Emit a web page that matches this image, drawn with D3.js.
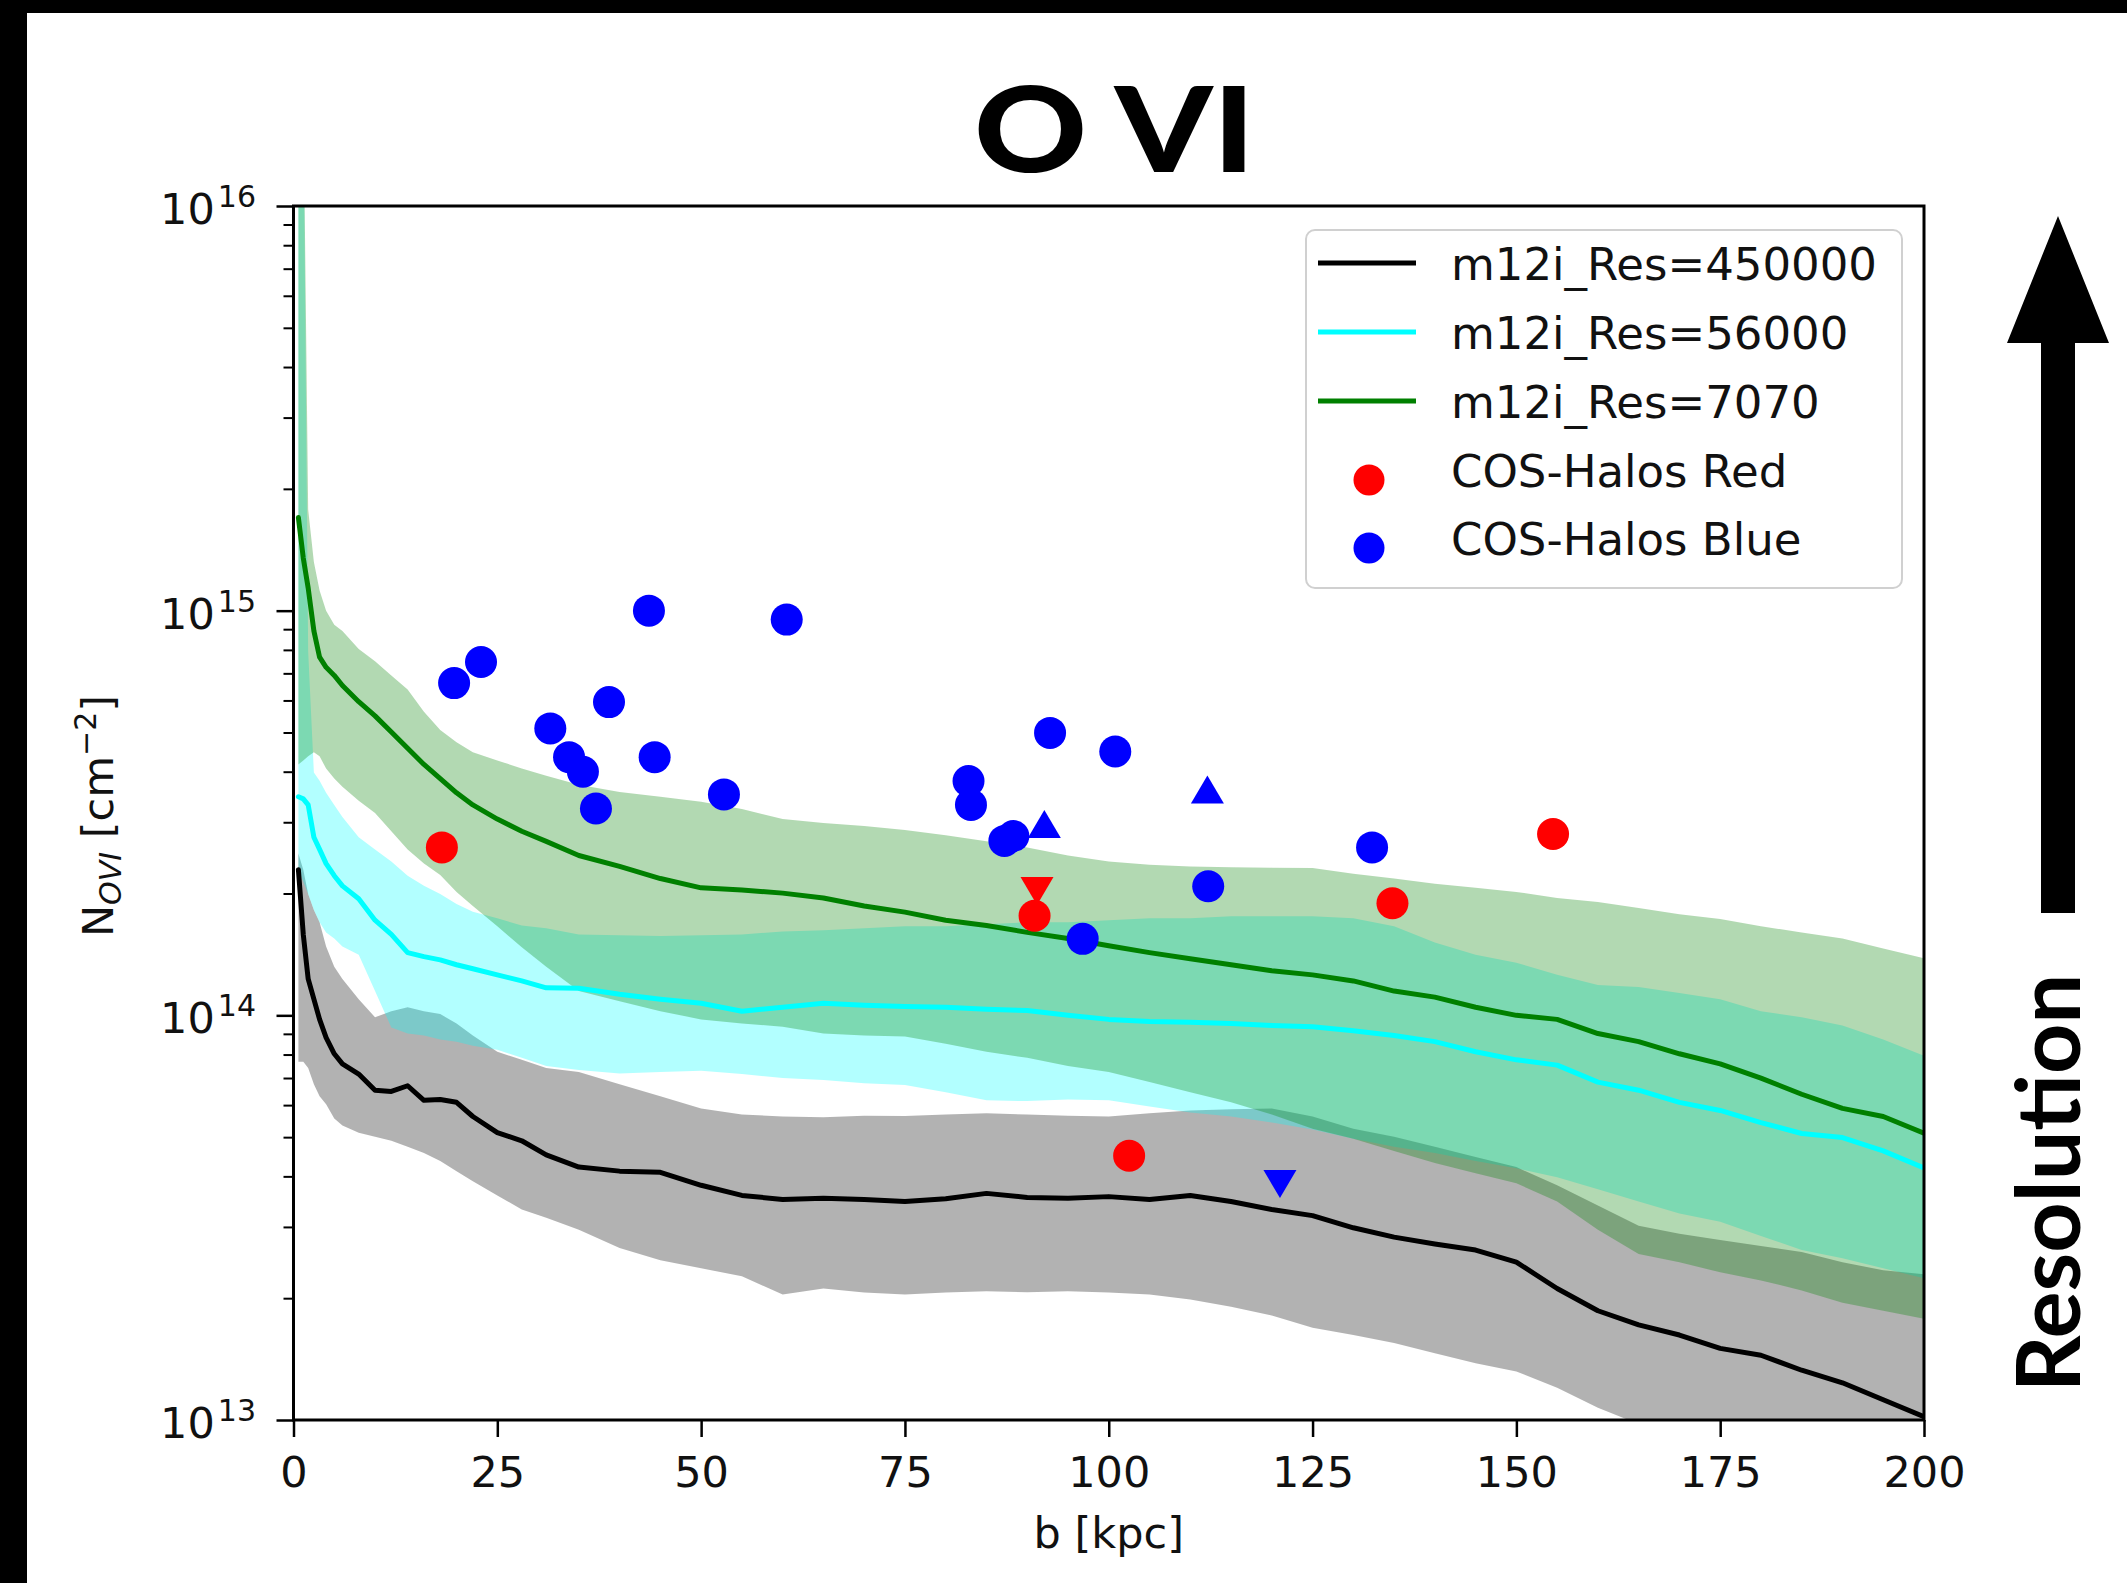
<!DOCTYPE html>
<html><head><meta charset="utf-8">
<script src="https://cdn.jsdelivr.net/npm/d3@7"></script>
<style>body{margin:0;background:#fff;} svg{display:block;}</style>
</head><body>
<script>
// ---------- data (values are log10 of N_OVI in cm^-2) ----------
const bKpc = [0.6,1.2,1.8,2.5,3.2,4,5,6,8,10,12,14,16,18,20,22,25,28,31,35,40,45,50,55,60,65,70,75,80,85,90,95,100,105,110,115,120,125,130,135,140,145,150,155,160,165,170,175,180,185,190,195,200];

const res450000Median = [14.36,14.20,14.09,14.04,13.99,13.945,13.905,13.88,13.855,13.815,13.812,13.826,13.79,13.792,13.785,13.75,13.71,13.69,13.655,13.625,13.615,13.612,13.58,13.555,13.545,13.548,13.545,13.54,13.547,13.56,13.55,13.548,13.552,13.545,13.555,13.54,13.52,13.505,13.475,13.452,13.435,13.42,13.39,13.325,13.27,13.235,13.21,13.177,13.16,13.123,13.092,13.05,13.008];
const res450000Low = [13.885,13.885,13.87,13.83,13.80,13.78,13.745,13.728,13.71,13.70,13.69,13.675,13.66,13.64,13.615,13.59,13.555,13.52,13.50,13.47,13.425,13.395,13.375,13.355,13.31,13.325,13.315,13.31,13.315,13.318,13.316,13.318,13.315,13.31,13.298,13.28,13.258,13.228,13.21,13.19,13.165,13.14,13.12,13.08,13.03,12.99,12.95,12.91,12.87,12.83,12.79,12.75,12.71];
const res450000High = [14.40,14.36,14.30,14.26,14.23,14.17,14.12,14.09,14.04,13.995,14.01,14.02,14.01,14.003,13.98,13.95,13.91,13.89,13.87,13.86,13.83,13.80,13.77,13.755,13.75,13.748,13.752,13.751,13.755,13.758,13.755,13.752,13.75,13.758,13.765,13.768,13.77,13.75,13.72,13.70,13.675,13.65,13.625,13.58,13.53,13.48,13.46,13.445,13.43,13.415,13.39,13.37,13.36];

const res56000Median = [14.54,14.535,14.52,14.44,14.41,14.375,14.345,14.32,14.288,14.235,14.20,14.155,14.145,14.137,14.125,14.115,14.10,14.085,14.068,14.067,14.052,14.04,14.03,14.01,14.02,14.03,14.025,14.022,14.02,14.015,14.012,14.0,13.99,13.985,13.983,13.98,13.975,13.972,13.962,13.95,13.935,13.91,13.89,13.877,13.835,13.815,13.785,13.765,13.735,13.708,13.698,13.665,13.623];
const res56000Low = [14.36,14.33,14.30,14.26,14.23,14.205,14.19,14.17,14.15,14.06,13.97,13.955,13.95,13.94,13.935,13.925,13.915,13.895,13.875,13.865,13.856,13.86,13.863,13.855,13.845,13.84,13.832,13.828,13.81,13.79,13.788,13.792,13.79,13.775,13.76,13.75,13.735,13.718,13.695,13.675,13.66,13.64,13.622,13.60,13.57,13.54,13.51,13.49,13.455,13.42,13.40,13.375,13.35];
const res56000High = [16.3,16.3,14.9,14.6,14.58,14.55,14.52,14.49,14.44,14.41,14.38,14.345,14.32,14.30,14.275,14.256,14.24,14.222,14.215,14.2,14.198,14.196,14.198,14.2,14.207,14.21,14.215,14.22,14.22,14.225,14.23,14.23,14.235,14.24,14.24,14.245,14.245,14.245,14.24,14.22,14.18,14.15,14.13,14.10,14.075,14.07,14.055,14.04,14.01,13.995,13.975,13.94,13.90];

const res7070Median = [15.23,15.13,15.056,14.95,14.885,14.86,14.84,14.815,14.775,14.74,14.70,14.66,14.62,14.585,14.55,14.52,14.485,14.455,14.43,14.395,14.368,14.338,14.315,14.31,14.302,14.29,14.27,14.255,14.235,14.222,14.205,14.19,14.172,14.155,14.14,14.125,14.11,14.10,14.085,14.06,14.045,14.02,14.0,13.99,13.955,13.935,13.905,13.88,13.845,13.805,13.77,13.75,13.709];
const res7070Low = [14.62,14.63,14.64,14.65,14.64,14.61,14.585,14.565,14.53,14.50,14.455,14.41,14.375,14.347,14.305,14.27,14.22,14.168,14.12,14.06,14.035,14.01,13.99,13.98,13.972,13.955,13.95,13.948,13.93,13.91,13.895,13.875,13.86,13.835,13.81,13.785,13.755,13.72,13.695,13.665,13.635,13.61,13.585,13.54,13.47,13.41,13.39,13.365,13.345,13.32,13.29,13.27,13.25];
const res7070High = [16.3,16.3,15.25,15.12,15.05,15.0,14.965,14.95,14.905,14.875,14.84,14.805,14.75,14.705,14.675,14.65,14.63,14.61,14.592,14.57,14.552,14.54,14.528,14.51,14.485,14.475,14.468,14.458,14.445,14.43,14.415,14.395,14.38,14.372,14.368,14.366,14.365,14.364,14.35,14.338,14.325,14.315,14.305,14.29,14.28,14.265,14.25,14.238,14.22,14.205,14.19,14.165,14.141];

// COS-Halos
const redB = [18.2, 90.9, 102.5, 134.8, 154.5];
const redLogN = [14.415, 14.246, 13.653, 14.277, 14.448];
const redUpperLimB = [91.2];
const redUpperLimLogN = [14.307];
const blueB = [19.7,23.0,43.6,60.5,31.5,38.7,33.8,35.5,44.3,37.1,52.8,92.8,100.8,82.8,83.1,87.2,88.3,112.2,96.8,132.3];
const blueLogN = [14.821,14.873,15.0,14.978,14.709,14.774,14.638,14.602,14.638,14.511,14.546,14.698,14.652,14.579,14.520,14.431,14.443,14.319,14.189,14.415];
const blueLowerLimB = [92.1, 112.1];
const blueLowerLimLogN = [14.473, 14.558];
const blueUpperLimB = [121.0];
const blueUpperLimLogN = [13.583];

const xTicks = [0,25,50,75,100,125,150,175,200];
const yTickExps = [13,14,15,16];
const seriesNames = ["m12i_Res=450000","m12i_Res=56000","m12i_Res=7070"];
const seriesColors = ["#000000","#00ffff","#008000"];
const obsNames = ["COS-Halos Red","COS-Halos Blue"];
const obsColors = ["#ff0000","#0000ff"];

// ---------- drawing ----------
const W = 2127, H = 1583;
const svg = d3.select("body").append("svg").attr("width", W).attr("height", H);
svg.append("rect").attr("width", W).attr("height", H).attr("fill", "#fff");

const L = 293.5, R = 1924, T = 206, B = 1420;
const x = d3.scaleLinear().domain([0, 200]).range([L, R]);
const y = d3.scaleLog().domain([1e13, 1e16]).range([B, T]);
const yl = v => y(Math.pow(10, v));

svg.append("defs").append("clipPath").attr("id", "clip")
  .append("rect").attr("x", L).attr("y", T).attr("width", R - L).attr("height", B - T);

const plotG = svg.append("g").attr("clip-path", "url(#clip)");

const bands = [
  {lo: res450000Low, hi: res450000High, med: res450000Median},
  {lo: res56000Low, hi: res56000High, med: res56000Median},
  {lo: res7070Low, hi: res7070High, med: res7070Median}
];
bands.forEach((s, k) => {
  const area = d3.area()
    .x((d, i) => x(bKpc[i]))
    .y0((d, i) => yl(s.lo[i]))
    .y1((d, i) => yl(s.hi[i]));
  plotG.append("path").attr("d", area(bKpc))
    .attr("fill", seriesColors[k]).attr("fill-opacity", 0.3);
});
bands.forEach((s, k) => {
  const line = d3.line().x((d, i) => x(bKpc[i])).y((d, i) => yl(s.med[i]));
  plotG.append("path").attr("d", line(bKpc))
    .attr("fill", "none").attr("stroke", seriesColors[k])
    .attr("stroke-width", 5).attr("stroke-linejoin", "round").attr("stroke-linecap", "round");
});

// markers
const tri = (dir) => { // dir = -1 up, +1 down
  const w = 16.5, h = 14;
  return `M0,${dir*h}L${-w},${-dir*h}L${w},${-dir*h}Z`;
};
function circles(bs, ns, color) {
  plotG.selectAll(null).data(bs).enter().append("circle")
    .attr("cx", (d) => x(d)).attr("cy", (d, i) => yl(ns[i])).attr("r", 16)
    .attr("fill", color);
}
function triangles(bs, ns, color, dir) {
  plotG.selectAll(null).data(bs).enter().append("path")
    .attr("d", tri(dir))
    .attr("transform", (d, i) => `translate(${x(d)},${yl(ns[i])})`)
    .attr("fill", color);
}
circles(redB, redLogN, obsColors[0]);
triangles(redUpperLimB, redUpperLimLogN, obsColors[0], 1);
circles(blueB, blueLogN, obsColors[1]);
triangles(blueLowerLimB, blueLowerLimLogN, obsColors[1], -1);
triangles(blueUpperLimB, blueUpperLimLogN, obsColors[1], 1);

// axes
const font = "'DejaVu Sans', sans-serif";
const gx = svg.append("g").attr("transform", `translate(0,${B})`)
  .call(d3.axisBottom(x).tickValues(xTicks).tickSize(17).tickFormat(d => d));
gx.select(".domain").remove();
gx.selectAll("line").attr("stroke", "#000").attr("stroke-width", 2.5);
gx.selectAll("text").attr("y", 67).attr("dy", 0)
  .attr("font-family", font).attr("font-size", 43).attr("fill", "#111");

const majors = yTickExps.map(e => Math.pow(10, e));
const minors = [];
yTickExps.slice(0, -1).forEach(e => { for (let k = 2; k <= 9; k++) minors.push(k * Math.pow(10, e)); });
const gyMin = svg.append("g").attr("transform", `translate(${L},0)`)
  .call(d3.axisLeft(y).tickValues(minors).tickSize(10).tickFormat(""));
gyMin.select(".domain").remove();
gyMin.selectAll("line").attr("stroke", "#000").attr("stroke-width", 2);
const gy = svg.append("g").attr("transform", `translate(${L},0)`)
  .call(d3.axisLeft(y).tickValues(majors).tickSize(17).tickFormat(""));
gy.select(".domain").remove();
gy.selectAll("line").attr("stroke", "#000").attr("stroke-width", 2.5);

yTickExps.forEach(e => {
  const t = svg.append("text").attr("x", 256).attr("y", y(Math.pow(10, e)) + 18)
    .attr("text-anchor", "end").attr("font-family", font).attr("fill", "#111");
  t.append("tspan").attr("font-size", 43).text("10");
  t.append("tspan").attr("font-size", 30).attr("dy", -17).attr("dx", 3).text(String(e));
});

svg.append("rect").attr("x", L).attr("y", T).attr("width", R - L).attr("height", B - T)
  .attr("fill", "none").attr("stroke", "#000").attr("stroke-width", 3);

// axis labels
svg.append("text").attr("x", (L + R) / 2).attr("y", 1548).attr("text-anchor", "middle")
  .attr("font-family", font).attr("font-size", 43).attr("fill", "#111").text("b [kpc]");

const yLab = svg.append("text").attr("transform", "translate(113,816) rotate(-90)")
  .attr("text-anchor", "middle").attr("font-family", font).attr("font-size", 43).attr("fill", "#111");
yLab.append("tspan").text("N");
yLab.append("tspan").attr("font-size", 30).attr("font-style", "italic").attr("dy", 8).text("OVI");
yLab.append("tspan").attr("dy", -8).text(" [cm");
yLab.append("tspan").attr("font-size", 30).attr("dy", -17).text("\u22122");
yLab.append("tspan").attr("dy", 17).text("]");

// legend
const lg = svg.append("g");
lg.append("rect").attr("x", 1306).attr("y", 230).attr("width", 596).attr("height", 358)
  .attr("rx", 9).attr("fill", "#fff").attr("fill-opacity", 0.8)
  .attr("stroke", "#d0d0d0").attr("stroke-width", 2);
const rowBase = [280, 349, 418, 487, 555];
seriesNames.forEach((n, i) => {
  lg.append("line").attr("x1", 1318).attr("x2", 1416).attr("y1", rowBase[i] - 17).attr("y2", rowBase[i] - 17)
    .attr("stroke", seriesColors[i]).attr("stroke-width", 5);
  lg.append("text").attr("x", 1451).attr("y", rowBase[i]).attr("font-family", font)
    .attr("font-size", 45).attr("fill", "#111").text(n);
});
obsNames.forEach((n, j) => {
  const i = j + 3;
  lg.append("circle").attr("cx", 1369).attr("cy", rowBase[i] - 7).attr("r", 15.5).attr("fill", obsColors[j]);
  lg.append("text").attr("x", 1451).attr("y", rowBase[i]).attr("font-family", font)
    .attr("font-size", 45).attr("fill", "#111").text(n);
});

// title
svg.append("text").attr("x", 974).attr("y", 172)
  .attr("font-family", "Lato, 'DejaVu Sans', sans-serif").attr("font-weight", 900)
  .attr("font-size", 119).attr("textLength", 281).attr("lengthAdjust", "spacingAndGlyphs")
  .attr("fill", "#000").text("O VI");

// resolution arrow annotation
svg.append("path").attr("d", "M2041,913L2041,343L2007,343L2058,216L2109,343L2075,343L2075,913Z").attr("fill", "#000");
svg.append("text").attr("transform", "translate(2080,1183) rotate(-90)").attr("text-anchor", "middle")
  .attr("font-family", "Lato, sans-serif").attr("font-weight", 700).attr("font-size", 88)
  .attr("fill", "#000").text("Resolution");

// black frame edges
svg.append("rect").attr("x", 0).attr("y", 0).attr("width", W).attr("height", 13).attr("fill", "#000");
svg.append("rect").attr("x", 0).attr("y", 0).attr("width", 27).attr("height", H).attr("fill", "#000");
</script>
</body></html>
